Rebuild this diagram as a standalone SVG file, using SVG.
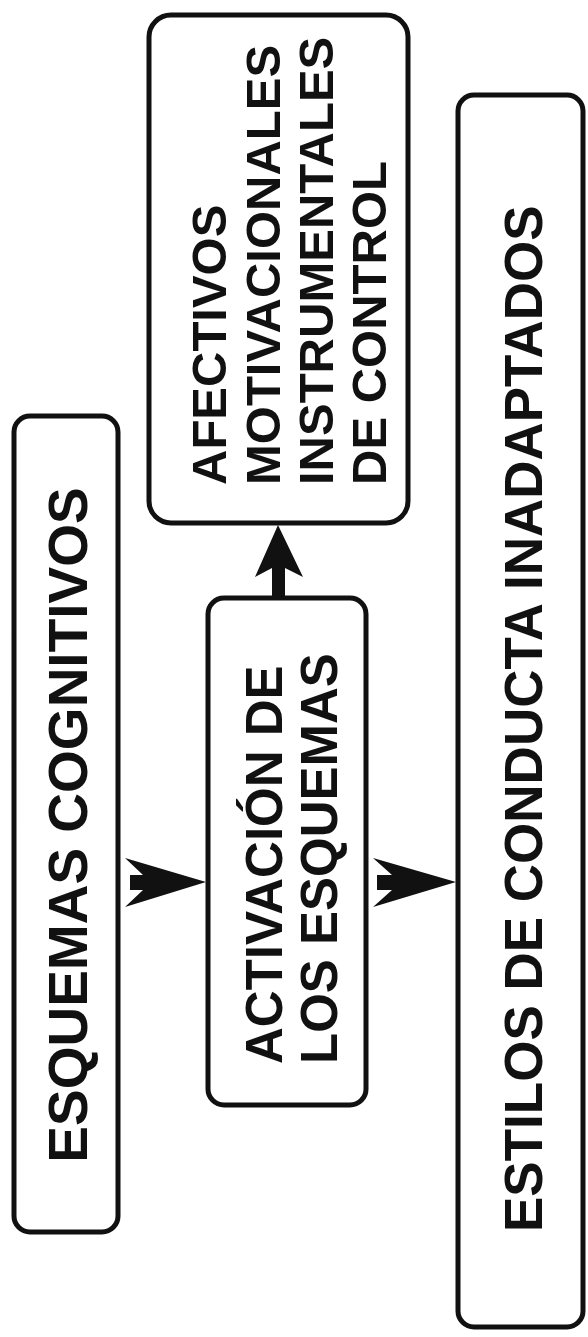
<svg xmlns="http://www.w3.org/2000/svg" width="588" height="1337" viewBox="0 0 588 1337">
  <style>
    .box { fill: #ffffff; stroke: #111111; stroke-width: 5; }
    .lbl { font-family: "Liberation Sans", Arial, sans-serif; font-weight: bold; fill: #111111; }
    .arrow { fill: #111111; stroke: none; }
  </style>
  <rect width="588" height="1337" fill="#ffffff"/>

  <g id="esquemas-cognitivos">
    <rect class="box" x="14" y="416" width="104" height="816" rx="16"/>
    <text class="lbl" font-size="55" text-anchor="middle" transform="translate(87,825) rotate(-90)">ESQUEMAS COGNITIVOS</text>
  </g>

  <g id="activacion">
    <rect class="box" x="208" y="598" width="158" height="507" rx="16"/>
    <text class="lbl" font-size="51" transform="translate(282,1064) rotate(-90)">ACTIVACIÓN DE</text>
    <text class="lbl" font-size="51" transform="translate(337,1064) rotate(-90)">LOS ESQUEMAS</text>
  </g>

  <g id="tipos">
    <rect class="box" x="149" y="15" width="259" height="508" rx="22"/>
    <text class="lbl" font-size="49" transform="translate(226,485) rotate(-90)">AFECTIVOS</text>
    <text class="lbl" font-size="49" transform="translate(280,485) rotate(-90)">MOTIVACIONALES</text>
    <text class="lbl" font-size="49" transform="translate(333,485) rotate(-90)">INSTRUMENTALES</text>
    <text class="lbl" font-size="49" transform="translate(386,485) rotate(-90)">DE CONTROL</text>
  </g>

  <g id="estilos">
    <rect class="box" x="458" y="95" width="125" height="1232" rx="16"/>
    <text class="lbl" font-size="53" transform="translate(542,1232) rotate(-90)">ESTILOS DE CONDUCTA INADAPTADOS</text>
  </g>

  <g id="connectors">
    <polygon class="arrow" points="130,875 143,875 125,858 206,882 125,907 143,890 130,890"/>
    <polygon class="arrow" points="377,875 392,875 373,858 456,882 373,907 392,890 377,890"/>
    <polygon class="arrow" points="272,598 272,568 255,577 278,525 303,577 285,568 285,598"/>
  </g>
</svg>
